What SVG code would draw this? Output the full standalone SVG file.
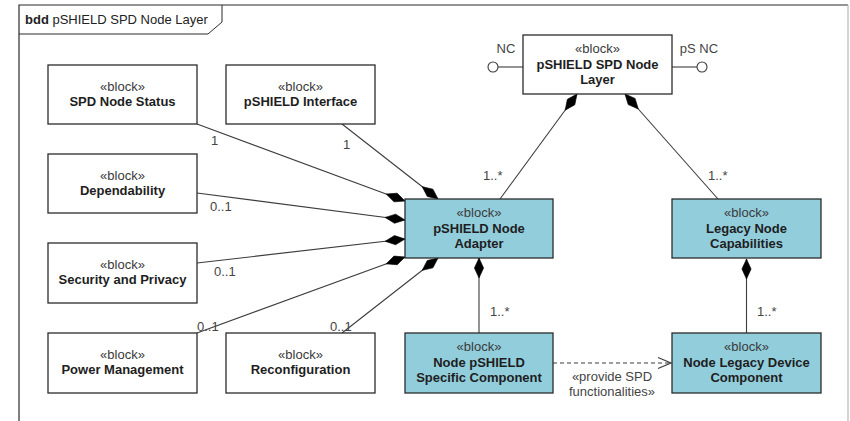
<svg xmlns="http://www.w3.org/2000/svg" width="850" height="421" viewBox="0 0 850 421">
  <style>
    text { font-family: "Liberation Sans", Arial, sans-serif; font-size: 13px; }
    .st { fill: #3a3a3a; text-anchor: middle; }
    .nm { fill: #1e1e1e; font-weight: bold; text-anchor: middle; }
    .mul { fill: #444; }
    .blk { fill: #ffffff; stroke: #2b2b2b; stroke-width: 1.3; }
    .blu { fill: #92cddc; stroke: #2b2b2b; stroke-width: 1.3; }
    .ln { stroke: #3c3c3c; stroke-width: 1.1; fill: none; }
    .comp { stroke: #3c3c3c; stroke-width: 1.1; fill: none; marker-end: url(#diamond); }
    .dep { stroke: #3c3c3c; stroke-width: 1.1; fill: none; stroke-dasharray: 4 3; marker-end: url(#open); }
  </style>
  <defs>
    <marker id="diamond" viewBox="-21 -6 22 12" refX="0" refY="0" markerWidth="22" markerHeight="12" markerUnits="userSpaceOnUse" orient="auto">
      <path d="M0,0 L-10,-4.6 L-20,0 L-10,4.6 Z" fill="#000" stroke="#000" stroke-width="0.6"/>
    </marker>
    <marker id="open" viewBox="-14 -7 15 14" refX="0" refY="0" markerWidth="15" markerHeight="14" markerUnits="userSpaceOnUse" orient="auto">
      <path d="M-13,-5.5 L0,0 L-13,5.5" fill="none" stroke="#3c3c3c" stroke-width="1.1"/>
    </marker>
  </defs>

  <rect width="850" height="421" fill="#ffffff"/>

  <!-- diagram frame with name tab -->
  <g id="frame">
    <path d="M19,440 L19,5 L848,5" fill="none" stroke="#2b2b2b" stroke-width="1.2"/>
    <path d="M848,5 L848,440" fill="none" stroke="#b8b8b8" stroke-width="1.2"/>
    <path d="M19,34 L208,34 L222,22 L222,5" fill="none" stroke="#2b2b2b" stroke-width="1"/>
    <text x="25" y="24" fill="#222"><tspan font-weight="bold">bdd</tspan> pSHIELD SPD Node Layer</text>
  </g>

  <!-- connectors -->
  <g id="connectors">
    <line class="comp" x1="197" y1="124" x2="405" y2="201"/>
    <line class="comp" x1="342" y1="124" x2="438" y2="199"/>
    <line class="comp" x1="197" y1="193" x2="405" y2="220"/>
    <line class="comp" x1="197" y1="263" x2="405" y2="239"/>
    <line class="comp" x1="197" y1="333" x2="405" y2="257"/>
    <line class="comp" x1="342" y1="333" x2="438" y2="258"/>
    <line class="comp" x1="500" y1="199" x2="577" y2="94"/>
    <line class="comp" x1="718" y1="199" x2="625" y2="94"/>
    <line class="comp" x1="479" y1="333" x2="479" y2="258"/>
    <line class="comp" x1="746.5" y1="333" x2="746.5" y2="259"/>
    <line class="dep" x1="553" y1="363" x2="671" y2="363"/>

    <!-- multiplicities -->
    <text class="mul" x="211" y="145">1</text>
    <text class="mul" x="343" y="149">1</text>
    <text class="mul" x="210" y="211">0..1</text>
    <text class="mul" x="214" y="276">0..1</text>
    <text class="mul" x="197" y="331">0..1</text>
    <text class="mul" x="330" y="331">0..1</text>
    <text class="mul" x="483" y="180">1..*</text>
    <text class="mul" x="708" y="180">1..*</text>
    <text class="mul" x="490" y="316">1..*</text>
    <text class="mul" x="757" y="316">1..*</text>
    <text class="mul" x="612" y="381" text-anchor="middle">«provide SPD</text>
    <text class="mul" x="612" y="396" text-anchor="middle">functionalities»</text>
  </g>

  <!-- system block with ports -->
  <g id="pshield-spd-node-layer">
    <line class="ln" x1="498" y1="67" x2="523" y2="67"/>
    <circle cx="493" cy="67" r="5" fill="#fff" stroke="#3c3c3c" stroke-width="1.1"/>
    <line class="ln" x1="672" y1="67" x2="697" y2="67"/>
    <circle cx="702" cy="67" r="5" fill="#fff" stroke="#3c3c3c" stroke-width="1.1"/>
    <text class="mul" x="506" y="53" text-anchor="middle">NC</text>
    <text class="mul" x="699" y="53" text-anchor="middle">pS NC</text>
    <rect class="blk" x="523" y="35" width="149" height="59"/>
    <text class="st" x="597.5" y="53">«block»</text>
    <text class="nm" x="597.5" y="68.5">pSHIELD SPD Node</text>
    <text class="nm" x="597.5" y="84">Layer</text>
  </g>

  <g id="spd-node-status">
    <rect class="blk" x="48" y="65" width="149" height="59"/>
    <text class="st" x="122.5" y="91">«block»</text>
    <text class="nm" x="122.5" y="106">SPD Node Status</text>
  </g>

  <g id="pshield-interface">
    <rect class="blk" x="226" y="65" width="149" height="59"/>
    <text class="st" x="300.5" y="91">«block»</text>
    <text class="nm" x="300.5" y="106">pSHIELD Interface</text>
  </g>

  <g id="dependability">
    <rect class="blk" x="48" y="154" width="149" height="59"/>
    <text class="st" x="122.5" y="180">«block»</text>
    <text class="nm" x="122.5" y="195">Dependability</text>
  </g>

  <g id="security-and-privacy">
    <rect class="blk" x="48" y="243" width="149" height="60"/>
    <text class="st" x="122.5" y="269">«block»</text>
    <text class="nm" x="122.5" y="284">Security and Privacy</text>
  </g>

  <g id="power-management">
    <rect class="blk" x="48" y="333" width="149" height="60"/>
    <text class="st" x="122.5" y="359">«block»</text>
    <text class="nm" x="122.5" y="374">Power Management</text>
  </g>

  <g id="reconfiguration">
    <rect class="blk" x="226" y="333" width="149" height="60"/>
    <text class="st" x="300.5" y="359">«block»</text>
    <text class="nm" x="300.5" y="374">Reconfiguration</text>
  </g>

  <g id="pshield-node-adapter">
    <rect class="blu" x="405" y="199" width="148" height="59"/>
    <text class="st" x="479" y="217">«block»</text>
    <text class="nm" x="479" y="232.5">pSHIELD Node</text>
    <text class="nm" x="479" y="248">Adapter</text>
  </g>

  <g id="legacy-node-capabilities">
    <rect class="blu" x="672" y="199" width="149" height="59"/>
    <text class="st" x="746.5" y="217">«block»</text>
    <text class="nm" x="746.5" y="232.5">Legacy Node</text>
    <text class="nm" x="746.5" y="248">Capabilities</text>
  </g>

  <g id="node-pshield-specific-component">
    <rect class="blu" x="405" y="333" width="148" height="60"/>
    <text class="st" x="479" y="351">«block»</text>
    <text class="nm" x="479" y="366.5">Node pSHIELD</text>
    <text class="nm" x="479" y="382">Specific Component</text>
  </g>

  <g id="node-legacy-device-component">
    <rect class="blu" x="672" y="333" width="149" height="60"/>
    <text class="st" x="746.5" y="351">«block»</text>
    <text class="nm" x="746.5" y="366.5">Node Legacy Device</text>
    <text class="nm" x="746.5" y="382">Component</text>
  </g>
</svg>
